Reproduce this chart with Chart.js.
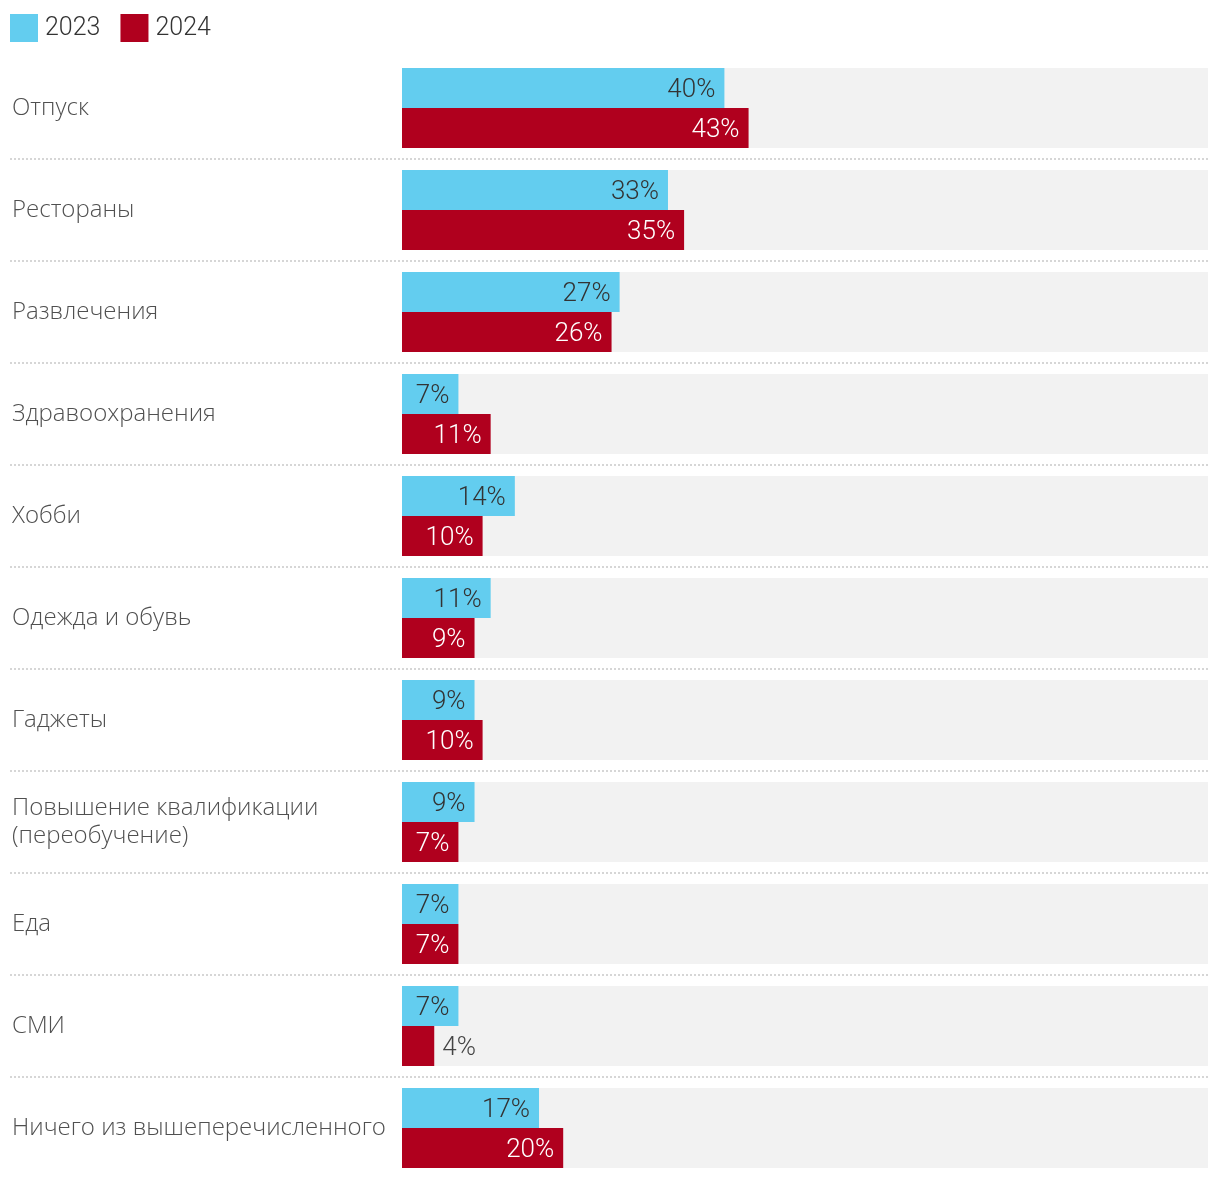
<!DOCTYPE html>
<html>
<head>
<meta charset="utf-8">
<script src="https://cdn.jsdelivr.net/npm/chart.js@4"></script>
<style>
  html, body { margin: 0; padding: 0; background: #fff; }
  #wrap { width: 1220px; height: 1180px; position: relative; }
</style>
</head>
<body>
<div id="wrap"><canvas id="chart"></canvas></div>
<script>
var categories = [
  'Отпуск',
  'Рестораны',
  'Развлечения',
  'Здравоохранения',
  'Хобби',
  'Одежда и обувь',
  'Гаджеты',
  ['Повышение квалификации', '(переобучение)'],
  'Еда',
  'СМИ',
  'Ничего из вышеперечисленного'
];
var seriesNames = ['2023', '2024'];
var values2023 = [40, 33, 27, 7, 14, 11, 9, 9, 7, 7, 17];
var values2024 = [43, 35, 26, 11, 10, 9, 10, 7, 7, 4, 20];

(function () {
  'use strict';

  var NUM_FONT = 'Roboto, "Noto Sans", sans-serif';
  var CAT_FONT = '"Open Sans", "Noto Sans", sans-serif';
  var colors = {
    blue: '#63cdef',
    red: '#b0001e',
    band: '#f2f2f2',
    dots: '#d6d6d6',
    text: '#333333',
    label: '#505050'
  };

  // grey band behind each category + dotted separators, value labels, legend
  var bandsPlugin = {
    id: 'bands',
    beforeDatasetsDraw: function (chart) {
      var ctx = chart.ctx;
      var area = chart.chartArea;
      var y = chart.scales.y;
      var n = chart.data.labels.length;
      ctx.save();
      for (var i = 0; i < n; i++) {
        var c = y.getPixelForValue(i);
        ctx.fillStyle = colors.band;
        ctx.fillRect(area.left, c - 40, area.right - area.left, 80);
        if (i < n - 1) {
          var sy = Math.round((c + y.getPixelForValue(i + 1)) / 2);
          ctx.strokeStyle = colors.dots;
          ctx.lineWidth = 2;
          ctx.setLineDash([2, 2]);
          ctx.beginPath();
          ctx.moveTo(10, sy);
          ctx.lineTo(area.right, sy);
          ctx.stroke();
        }
      }
      ctx.restore();
    },
    afterDatasetsDraw: function (chart) {
      var ctx = chart.ctx;
      ctx.save();
      ctx.font = '300 26px ' + NUM_FONT;
      ctx.textBaseline = 'middle';
      chart.data.datasets.forEach(function (ds, di) {
        var meta = chart.getDatasetMeta(di);
        meta.data.forEach(function (bar, i) {
          var txt = ds.data[i] + '%';
          var w = ctx.measureText(txt).width;
          var len = bar.x - bar.base;
          if (len > w + 14) {
            ctx.textAlign = 'right';
            ctx.fillStyle = di === 0 ? colors.text : '#ffffff';
            ctx.fillText(txt, bar.x - 9, bar.y + 2);
          } else {
            ctx.textAlign = 'left';
            ctx.fillStyle = '#444444';
            ctx.fillText(txt, bar.x + 8, bar.y + 2);
          }
        });
      });
      ctx.restore();
    },
    afterDraw: function (chart) {
      var ctx = chart.ctx;
      ctx.save();
      ctx.font = '300 25px ' + NUM_FONT;
      ctx.textBaseline = 'middle';
      ctx.textAlign = 'left';
      var x = 10;
      chart.data.datasets.forEach(function (ds) {
        ctx.fillStyle = ds.backgroundColor;
        ctx.fillRect(x, 14, 28, 28);
        ctx.fillStyle = colors.text;
        ctx.fillText(ds.label, x + 35, 29);
        x += 35 + ctx.measureText(ds.label).width + 20;
      });
      ctx.restore();
    }
  };

  new Chart(document.getElementById('chart'), {
    type: 'bar',
    data: {
      labels: categories,
      datasets: [
        {
          label: seriesNames[0],
          data: values2023,
          backgroundColor: colors.blue,
          categoryPercentage: 80 / 102,
          barPercentage: 1
        },
        {
          label: seriesNames[1],
          data: values2024,
          backgroundColor: colors.red,
          categoryPercentage: 80 / 102,
          barPercentage: 1
        }
      ]
    },
    options: {
      indexAxis: 'y',
      responsive: true,
      maintainAspectRatio: false,
      animation: false,
      layout: { padding: { left: 12, right: 12, top: 57, bottom: 1 } },
      scales: {
        x: { display: false, min: 0, max: 100 },
        y: {
          grid: { display: false },
          border: { display: false },
          ticks: {
            crossAlign: 'far',
            color: colors.label,
            font: { family: CAT_FONT, size: 24, weight: 300, lineHeight: 1.17 }
          },
          afterFit: function (scale) {
            scale.width = 390;
            scale.paddingTop = 0;
            scale.paddingBottom = 0;
          }
        }
      },
      plugins: {
        legend: { display: false },
        tooltip: { enabled: false }
      }
    },
    plugins: [bandsPlugin]
  });
})();
</script>
</body>
</html>
